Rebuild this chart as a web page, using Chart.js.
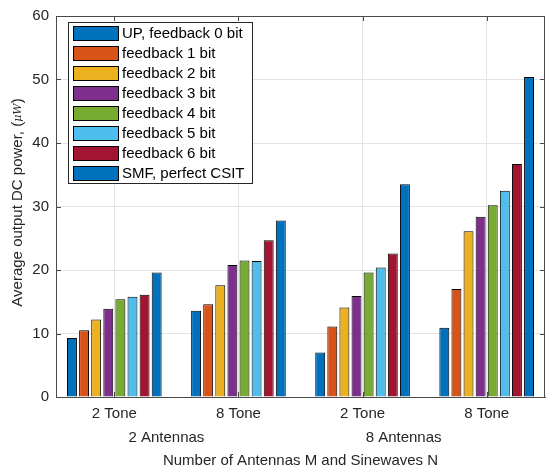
<!DOCTYPE html>
<html>
<head>
<meta charset="utf-8">
<script src="https://cdn.jsdelivr.net/npm/chart.js@4"></script>
<style>
  html, body { margin: 0; padding: 0; background: #fff; }
</style>
</head>
<body>
<canvas id="powerChart" width="546" height="470"></canvas>
<script>
// data (µW)
const toneLabels = ["2 Tone", "8 Tone", "2 Tone", "8 Tone"];
const antennaLabels = ["2 Antennas", "8 Antennas"];
const seriesNames = [
    "UP, feedback 0 bit", "feedback 1 bit", "feedback 2 bit", "feedback 3 bit",
    "feedback 4 bit", "feedback 5 bit", "feedback 6 bit", "SMF, perfect CSIT"
];
const seriesColors = ["#0072BD", "#D95319", "#EDB120", "#7E2F8E", "#77AC30", "#4DBEEE", "#A2142F", "#0072BD"];

const feedback0 = [9.3, 13.6, 7.0, 10.9];
const feedback1 = [10.5, 14.6, 11.1, 17.0];
const feedback2 = [12.2, 17.6, 14.1, 26.1];
const feedback3 = [13.9, 20.8, 15.9, 28.4];
const feedback4 = [15.4, 21.5, 19.6, 30.2];
const feedback5 = [15.8, 21.4, 20.4, 32.5];
const feedback6 = [16.1, 24.7, 22.6, 36.7];
const smfPerfect = [19.6, 27.8, 33.5, 50.4];

const yTicks = [0, 10, 20, 30, 40, 50, 60];

const allSeries = [feedback0, feedback1, feedback2, feedback3, feedback4, feedback5, feedback6, smfPerfect];

const axisColor = "#4a4a4a";
const textColor = "#262626";
const fontFamily = "'Liberation Sans', Arial, Helvetica, sans-serif";

// box, inward ticks, group labels, y title and legend drawn like the matlab figure
const matlabDecor = {
    id: "matlabDecor",
    afterDraw(chart) {
        const { ctx, chartArea: a, scales } = chart;
        const x = scales.x, y = scales.y;
        ctx.save();

        ctx.strokeStyle = axisColor;
        ctx.lineWidth = 1;
        ctx.strokeRect(a.left + 0.5, a.top + 0.5, a.right - a.left - 1, a.bottom - a.top);

        ctx.beginPath();
        yTicks.forEach(v => {
            const py = Math.round(y.getPixelForValue(v)) + 0.5;
            ctx.moveTo(a.left, py); ctx.lineTo(a.left + 5, py);
            ctx.moveTo(a.right, py); ctx.lineTo(a.right - 5, py);
        });
        toneLabels.forEach((_, i) => {
            const px = Math.round(x.getPixelForValue(i + 1)) + 0.5;
            ctx.moveTo(px, a.top); ctx.lineTo(px, a.top + 5);
            ctx.moveTo(px, a.bottom); ctx.lineTo(px, a.bottom - 5);
        });
        ctx.stroke();

        // second row of category labels
        ctx.fillStyle = textColor;
        ctx.font = "15px " + fontFamily;
        ctx.textAlign = "center";
        ctx.textBaseline = "middle";
        const shifts = [-10, -21];
        antennaLabels.forEach((lbl, i) => {
            const mid = (x.getPixelForValue(2 * i + 1) + x.getPixelForValue(2 * i + 2)) / 2;
            ctx.fillText(lbl, mid + shifts[i], 438);
        });

        // y title with the small italic unit
        const parts = [
            ["Average output DC power, (", "15px " + fontFamily],
            ["μW", "italic 11px 'DejaVu Serif', serif"],
            [")", "15px " + fontFamily]
        ];
        let total = 0;
        parts.forEach(p => { ctx.font = p[1]; total += ctx.measureText(p[0]).width; });
        ctx.save();
        ctx.translate(18, (a.top + a.bottom) / 2 - 4);
        ctx.rotate(-Math.PI / 2);
        ctx.textAlign = "left";
        let cx = -total / 2;
        parts.forEach(p => {
            ctx.font = p[1];
            ctx.fillText(p[0], cx, 0);
            cx += ctx.measureText(p[0]).width;
        });
        ctx.restore();

        // legend inside the axes
        ctx.font = "15px " + fontFamily;
        const lx = 68, ly = 22, lw = 184, lh = 161;
        ctx.fillStyle = "#fff";
        ctx.fillRect(lx, ly, lw, lh);
        ctx.strokeStyle = "#262626";
        ctx.strokeRect(lx + 0.5, ly + 0.5, lw, lh);
        ctx.textAlign = "left";
        chart.data.datasets.forEach((ds, i) => {
            const top = ly + 4 + i * 20;
            ctx.fillStyle = ds.backgroundColor;
            ctx.fillRect(73, top, 45, 14);
            ctx.strokeStyle = "#000";
            ctx.strokeRect(73.5, top + 0.5, 45, 14);
            ctx.fillStyle = "#000";
            ctx.fillText(ds.label, 122, top + 8);
        });

        ctx.restore();
    }
};

const datasets = allSeries.map((vals, i) => ({
    label: seriesNames[i],
    data: vals.map((v, j) => ({ x: j + 1, y: v })),
    backgroundColor: seriesColors[i],
    borderColor: "#000",
    borderWidth: 1,
    categoryPercentage: 0.78,
    barPercentage: 0.82
}));

const ctx = document.getElementById("powerChart").getContext("2d");
new Chart(ctx, {
    type: "bar",
    data: { datasets },
    options: {
        responsive: false,
        animation: false,
        layout: { padding: { top: 9, right: 1, left: 0, bottom: 0 } },
        plugins: { legend: { display: false }, tooltip: { enabled: false } },
        scales: {
            x: {
                type: "linear",
                offset: false,
                min: 0.53,
                max: 4.47,
                afterBuildTicks: s => { s.ticks = toneLabels.map((_, i) => ({ value: i + 1 })); },
                afterFit: s => { s.height = 73; },
                ticks: {
                    callback: v => toneLabels[v - 1],
                    color: textColor,
                    font: { size: 15, family: fontFamily },
                    padding: 8,
                    maxRotation: 0
                },
                grid: { color: "#e3e3e3", drawTicks: false, offset: false },
                border: { color: axisColor },
                title: {
                    display: true,
                    text: "Number of Antennas M and Sinewaves N",
                    color: textColor,
                    font: { size: 15, family: fontFamily },
                    padding: { top: 0, bottom: 0 }
                }
            },
            y: {
                min: 0,
                max: 60,
                afterFit: s => { s.width = 56; },
                ticks: {
                    stepSize: 10,
                    color: textColor,
                    font: { size: 15, family: fontFamily },
                    padding: 7
                },
                grid: { color: "#e3e3e3", drawTicks: false },
                border: { color: axisColor }
            }
        }
    },
    plugins: [matlabDecor]
});
</script>
</body>
</html>
